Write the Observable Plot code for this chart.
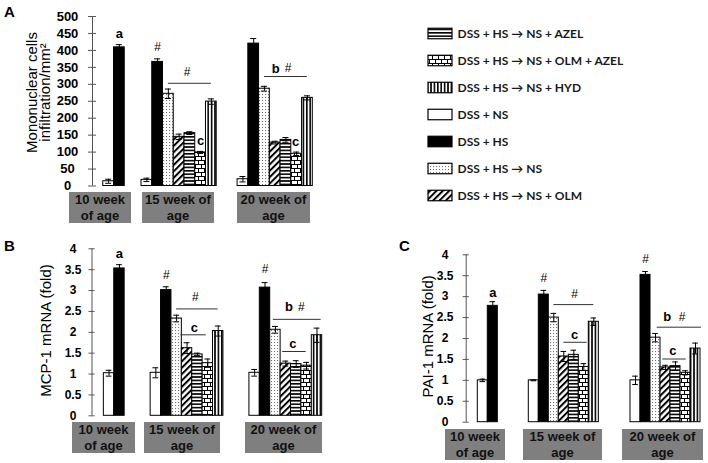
<!DOCTYPE html>
<html><head><meta charset="utf-8">
<script src="https://cdn.jsdelivr.net/npm/d3@7"></script>
<script src="https://cdn.jsdelivr.net/npm/@observablehq/plot@0.6"></script>
<style>
html,body{margin:0;padding:0;background:#fff;}
#page{position:relative;width:708px;height:463px;overflow:hidden;font-family:Arial,"Liberation Sans",sans-serif;}
.panel{position:absolute;}
.plab{position:absolute;font-weight:bold;font-size:15px;line-height:15px;color:#000;}
.box{position:absolute;background:#7f7f7f;color:#111;font-weight:bold;font-size:13px;line-height:16px;display:flex;align-items:center;justify-content:center;text-align:center;}
</style></head><body>
<svg width="0" height="0" style="position:absolute">
<defs>
 <pattern id="p-dot" width="3" height="3" patternUnits="userSpaceOnUse"><rect width="3" height="3" fill="#fff"/><rect x="1" y="1" width="1.1" height="1.1" fill="#777"/></pattern>
 <pattern id="p-diag" width="4.5" height="4.5" patternUnits="userSpaceOnUse" patternTransform="rotate(45)"><rect width="4.5" height="4.5" fill="#fff"/><rect width="2" height="4.5" fill="#000"/></pattern>
 <pattern id="p-horiz" width="4" height="3.4" patternUnits="userSpaceOnUse"><rect width="4" height="3.4" fill="#fff"/><rect width="4" height="1.6" fill="#000"/></pattern>
 <pattern id="p-brick" width="6" height="8" patternUnits="userSpaceOnUse"><rect width="6" height="8" fill="#fff"/><path d="M0,0.5H6M0,4.5H6M0.5,0.5V4.5M3.5,4.5V8.5" stroke="#000" stroke-width="1" fill="none"/></pattern>
 <pattern id="p-vert" width="3.4" height="4" patternUnits="userSpaceOnUse"><rect width="3.4" height="4" fill="#fff"/><rect width="1.6" height="4" fill="#000"/></pattern>
</defs></svg>
<div id="page"></div>
<script>
// ---------- data ----------
const groups = ["10 week of age", "15 week of age", "20 week of age"];
const series = ["DSS + NS", "DSS + HS", "DSS + HS → NS", "DSS + HS → NS + OLM",
                "DSS + HS → NS + AZEL", "DSS + HS → NS + OLM + AZEL", "DSS + HS → NS + HYD"];
const legendOrder = ["DSS + HS → NS + AZEL", "DSS + HS → NS + OLM + AZEL", "DSS + HS → NS + HYD",
                     "DSS + NS", "DSS + HS", "DSS + HS → NS", "DSS + HS → NS + OLM"];

// Panel A: Mononuclear cells infiltration/mm²
const infilValues = [[14, 409], [18, 366, 272, 145, 156, 99, 249], [20, 420, 287, 128, 136, 95, 260]];
const infilErrors = [[6, 8], [5, 9, 14, 8, 4, 3, 8], [8, 15, 7, 4, 7, 5, 6]];
const infilTicks = [0, 50, 100, 150, 200, 250, 300, 350, 400, 450, 500];
const infilLetters = [
  {g: 0, slot: 1.5, v: 448, t: "a"}, {g: 1, slot: 5.5, v: 133, t: "c"},
  {g: 2, slot: 3.55, v: 347, t: "b"}, {g: 2, slot: 5.4, v: 130, t: "c"}];
const infilHashes = [
  {g: 1, slot: 1.5, v: 411}, {g: 1, slot: 4.25, v: 337}, {g: 2, slot: 4.7, v: 347}];
const infilLines = [{g: 1, from: 2.5, to: 6.5, v: 303}, {g: 2, from: 2.5, to: 6.5, v: 323}];

// Panel B: MCP-1 mRNA (fold)
const mcpValues = [[1.02, 3.53], [1.03, 3.01, 2.33, 1.62, 1.47, 1.26, 2.03], [1.03, 3.07, 2.06, 1.25, 1.24, 1.2, 1.93]];
const mcpErrors = [[0.07, 0.09], [0.12, 0.08, 0.08, 0.13, 0.03, 0.1, 0.12], [0.08, 0.12, 0.08, 0.06, 0.08, 0.08, 0.17]];
const foldTicks = [0, 0.5, 1, 1.5, 2, 2.5, 3, 3.5, 4];
const mcpLetters = [
  {g: 0, slot: 1.5, v: 3.89, t: "a"}, {g: 1, slot: 4.2, v: 2.11, t: "c"},
  {g: 2, slot: 3.8, v: 2.6, t: "b"}, {g: 2, slot: 4.17, v: 1.72, t: "c"}];
const mcpHashes = [
  {g: 1, slot: 1.5, v: 3.36}, {g: 1, slot: 4.3, v: 2.83}, {g: 2, slot: 1.5, v: 3.52}, {g: 2, slot: 5.0, v: 2.6}];
const mcpLines = [
  {g: 1, from: 2.5, to: 6.5, v: 2.56}, {g: 1, from: 2.9, to: 5.35, v: 1.94},
  {g: 2, from: 2.3, to: 6.9, v: 2.31}, {g: 2, from: 3.2, to: 5.46, v: 1.54}];

// Panel C: PAI-1 mRNA (fold)
const paiValues = [[1.0, 2.78], [1.0, 3.05, 2.5, 1.57, 1.61, 1.32, 2.4], [1.0, 3.52, 2.02, 1.31, 1.34, 1.18, 1.76]];
const paiErrors = [[0.03, 0.1], [0.01, 0.1, 0.1, 0.12, 0.11, 0.08, 0.09], [0.1, 0.08, 0.1, 0.05, 0.1, 0.05, 0.13]];
const paiLetters = [
  {g: 0, slot: 1.5, v: 3.09, t: "a"}, {g: 1, slot: 4.57, v: 2.09, t: "c"},
  {g: 2, slot: 3.67, v: 2.51, t: "b"}, {g: 2, slot: 4.23, v: 1.71, t: "c"}];
const paiHashes = [
  {g: 1, slot: 1.5, v: 3.45}, {g: 1, slot: 4.57, v: 3.05}, {g: 2, slot: 1.5, v: 3.9}, {g: 2, slot: 5.17, v: 2.51}];
const paiLines = [
  {g: 1, from: 2.5, to: 6.5, v: 2.81}, {g: 1, from: 3.5, to: 5.84, v: 1.91},
  {g: 2, from: 2.67, to: 7.1, v: 2.27}, {g: 2, from: 3.23, to: 5.57, v: 1.51}];

// ---------- styles ----------
const fills = ["#ffffff", "#000000", "url(#p-dot)", "url(#p-diag)", "url(#p-horiz)", "url(#p-brick)", "url(#p-vert)"];
const FONT = "Arial, 'Liberation Sans', sans-serif";

function panel(cfg) {
  const rows = [];
  cfg.values.forEach((vals, g) => vals.forEach((v, i) => rows.push({g, s: series[i], i, v, e: cfg.errors[g][i]})));
  const X = (g, slot) => cfg.groupStart[g] + slot;
  const cap = 0.28;
  const el = Plot.plot({
    width: cfg.width, height: cfg.height,
    marginLeft: cfg.mL, marginRight: cfg.mR, marginTop: cfg.mT, marginBottom: cfg.mB,
    x: {type: "linear", domain: cfg.xDomain, axis: null},
    y: {domain: [0, cfg.yMax], label: null},
    color: {domain: series, range: fills},
    style: {background: "transparent", fontFamily: FONT, overflow: "visible"},
    marks: [
      Plot.ruleX([cfg.xDomain[0]], {stroke: "#555", strokeWidth: 1}),
      Plot.axisY({ticks: cfg.ticks, tickSize: cfg.tickLen, dx: cfg.tickLen / 2, tickFormat: () => "", stroke: "#555", label: null}),
      Plot.axisY({ticks: cfg.ticks, tickSize: 0, tickPadding: cfg.labelOffset, textAnchor: "middle",
                  fontSize: cfg.tickFont, fontWeight: "bold", fill: "#000", label: null, tickFormat: d => String(d)}),
      Plot.rectY(rows, {x1: d => X(d.g, d.i), x2: d => X(d.g, d.i + 1), y1: 0, y2: "v", fill: "s", stroke: "#000", strokeWidth: 1}),
      Plot.ruleX(rows, {x: d => X(d.g, d.i + 0.5), y1: d => d.v - d.e, y2: d => d.v + d.e, stroke: "#000", strokeWidth: 1}),
      Plot.ruleY(rows, {y: d => d.v + d.e, x1: d => X(d.g, d.i + 0.5 - cap), x2: d => X(d.g, d.i + 0.5 + cap), stroke: "#000", strokeWidth: 1}),
      Plot.ruleY(rows, {y: d => d.v - d.e, x1: d => X(d.g, d.i + 0.5 - cap), x2: d => X(d.g, d.i + 0.5 + cap), stroke: "#000", strokeWidth: 1}),
      Plot.ruleY(cfg.lines, {y: "v", x1: d => X(d.g, d.from), x2: d => X(d.g, d.to), stroke: "#333", strokeWidth: 1}),
      Plot.text(cfg.letters, {x: d => X(d.g, d.slot), y: "v", text: "t", fontSize: 13, fontWeight: "bold", fill: "#000"}),
      Plot.text(cfg.hashes, {x: d => X(d.g, d.slot), y: "v", text: () => "#", fontSize: 12, fill: "#000"}),
      Plot.text([cfg.ylabel], {frameAnchor: "left", textAnchor: "middle", lineAnchor: "middle", rotate: -90,
                               dx: cfg.labDx, dy: cfg.labDy, fontSize: 15, lineHeight: 0.85, fill: "#000"})
    ]
  });
  const wrap = document.createElement("div");
  wrap.className = "panel";
  wrap.style.left = cfg.left + "px"; wrap.style.top = cfg.top + "px";
  wrap.appendChild(el);
  document.getElementById("page").appendChild(wrap);
  cfg.boxes.forEach((b, k) => {
    const d = document.createElement("div");
    d.className = "box";
    d.style.left = b[0] + "px"; d.style.top = b[2] + "px";
    d.style.width = (b[1] - b[0]) + "px"; d.style.height = (b[3] - b[2]) + "px";
    d.innerHTML = cfg.boxText[k];
    document.getElementById("page").appendChild(d);
  });
}

const boxText = ["10 week<br>of age", "15 week of<br>age", "20 week of<br>age"];

panel({left: 0, top: 0, width: 330, height: 190, mL: 92, mR: 17.7, mT: 16, mB: 4.5,
  xDomain: [-1, 19.5], groupStart: [0, 3.56, 12.5], yMax: 500, ticks: infilTicks, tickLen: 8, labelOffset: 25, tickFont: 13,
  values: infilValues, errors: infilErrors, letters: infilLetters, hashes: infilHashes, lines: infilLines,
  ylabel: "Mononuclear cells\ninfiltration/mm²", labDx: -53, labDy: -8.75,
  boxes: [[69, 131, 192, 223], [142, 214, 192, 223], [237, 310, 192, 223]], boxText});

panel({left: 0, top: 230, width: 330, height: 200, mL: 91.5, mR: 8.3, mT: 18.3, mB: 14.7,
  xDomain: [-1.14, 21], groupStart: [0, 4.5, 14], yMax: 4, ticks: foldTicks, tickLen: 6, labelOffset: 19, tickFont: 12,
  values: mcpValues, errors: mcpErrors, letters: mcpLetters, hashes: mcpHashes, lines: mcpLines,
  ylabel: "MCP-1 mRNA (fold)", labDx: -45, labDy: -1.8,
  boxes: [[72, 135, 422, 453], [144, 220, 422, 453], [245, 322, 422, 453]], boxText});

panel({left: 360, top: 230, width: 348, height: 200, mL: 105.7, mR: 8, mT: 24.3, mB: 8.3,
  xDomain: [-1.16, 22.27], groupStart: [0, 5.1, 15.27], yMax: 4, ticks: foldTicks, tickLen: 6, labelOffset: 21, tickFont: 12,
  values: paiValues, errors: paiErrors, letters: paiLetters, hashes: paiHashes, lines: paiLines,
  ylabel: "PAI-1 mRNA (fold)", labDx: -37, labDy: -2.2,
  boxes: [[445, 505, 429, 460], [523, 602, 429, 460], [622, 703, 429, 460]], boxText});

// legend
const legend = Plot.plot({
  width: 288, height: 200, margin: 0,
  x: {domain: [0, 288], range: [0, 288], axis: null},
  y: {type: "band", domain: legendOrder, range: [3.25, 195.75], padding: 0, axis: null},
  color: {domain: series, range: fills},
  style: {background: "transparent"},
  marks: [
    Plot.barX(legendOrder, {x1: 8, x2: 32, y: d => d, fill: d => d, stroke: "#000", strokeWidth: 1.2, insetTop: 8.25, insetBottom: 8.25}),
    Plot.text(legendOrder, {x: 37, y: d => d, text: d => d, textAnchor: "start", fontSize: 12, fontWeight: "bold",
                            fontFamily: "Lato, 'Open Sans', sans-serif", fill: "#1a1a1a"})
  ]
});
const lw = document.createElement("div");
lw.className = "panel"; lw.style.left = "420px"; lw.style.top = "15px";
lw.appendChild(legend);
document.getElementById("page").appendChild(lw);

// panel letters
[["A", 4, 4], ["B", 4, 238], ["C", 399, 238]].forEach(([t, x, y]) => {
  const d = document.createElement("div");
  d.className = "plab"; d.textContent = t;
  d.style.left = x + "px"; d.style.top = y + "px";
  document.getElementById("page").appendChild(d);
});
</script>
</body></html>
